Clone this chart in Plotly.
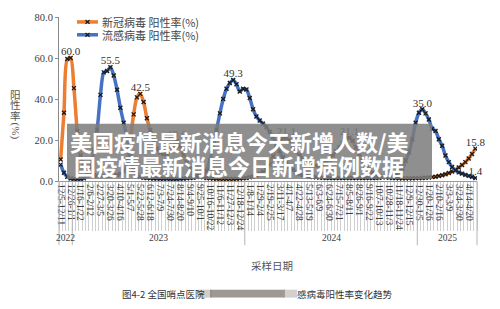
import plotly.graph_objects as go

# ---------------- data ----------------
covid_rate = [
    10.5, 33.3, 59.5, 60.0, 45.3, 24.4, 12.4, 7.6, 4.5, 3.2,
    2.8, 2.6, 2.5, 2.5, 2.5, 2.6, 2.7, 2.9, 3.5, 5.0,
    10.0, 20.5, 32.5, 40.8, 42.5, 38.5, 30.6, 24.8, 19.6, 15.8,
    13.8, 13.0, 13.2, 14.5, 16.8, 19.6, 17.0, 13.0, 9.0, 6.0,
    4.0, 3.0, 2.2, 1.8, 1.5, 1.3, 1.2, 1.1, 1.0, 1.0,
    1.0, 1.0, 1.0, 1.1, 1.2, 1.3, 1.5, 1.8, 2.2, 2.8,
    3.5, 4.5, 5.5, 8.0, 12.0, 16.0, 19.0, 20.8, 21.1, 19.8,
    17.0, 14.5, 12.5, 11.0, 9.8, 8.8, 8.0, 7.5, 7.5, 8.0,
    9.0, 10.5, 12.5, 14.5, 16.5, 18.5, 20.4, 21.1, 19.6, 16.4,
    13.0, 10.0, 7.5, 5.5, 4.0, 3.0, 2.5, 2.0, 1.8, 1.6,
    1.5, 1.4, 1.3, 1.3, 1.3, 1.3, 1.3, 1.4, 1.4, 1.5,
    1.6, 1.7, 1.9, 2.1, 2.4, 2.8, 3.3, 3.9, 4.6, 5.5,
    6.6, 7.8, 9.2, 11.0, 13.2, 15.8,
]
flu_rate = [
    8.0, 4.0, 2.0, 1.2, 1.0, 1.0, 1.0, 1.3, 2.5, 6.5,
    15.0, 25.0, 42.0, 53.0, 53.7, 55.5, 51.5, 44.5, 35.7, 28.4,
    21.0, 12.0, 5.5, 3.0, 2.0, 1.6, 1.4, 1.3, 1.2, 1.2,
    1.1, 1.1, 1.1, 1.0, 1.0, 1.0, 1.1, 1.2, 1.3, 1.4,
    1.6, 1.9, 2.2, 2.5, 5.0, 10.0, 17.0, 25.0, 33.0, 40.0,
    45.0, 47.8, 49.3, 47.2, 43.7, 45.0, 44.6, 40.5, 35.0, 31.5,
    29.5, 28.0, 26.3, 24.0, 21.5, 18.0, 14.5, 11.5, 9.0, 7.0,
    5.5, 4.3, 3.4, 2.8, 2.4, 2.1, 1.9, 1.8, 1.7, 1.6,
    1.5, 1.5, 1.5, 1.5, 1.5, 1.5, 1.5, 1.5, 1.5, 1.5,
    1.5, 1.5, 1.5, 1.5, 1.5, 1.5, 1.6, 1.8, 2.0, 2.4,
    2.9, 3.5, 4.5, 6.0, 10.0, 14.0, 20.4, 28.4, 33.3, 35.0,
    33.0, 30.0, 25.5, 24.4, 20.4, 17.2, 12.4, 9.2, 6.8, 5.2,
    4.2, 3.6, 3.0, 2.5, 2.0, 1.4,
]
tick_labels = [
    "12/5-12/11", "12/26-1/1", "1/16-1/22", "2/6-2/12", "2/27-3/5", "3/20-3/26",
    "4/10-4/16", "5/1-5/7", "5/22-5/28", "6/12-6/18", "7/3-7/9", "7/24-7/30",
    "8/14-8/20", "9/4-9/10", "9/25-10/1", "10/16-10/22", "11/6-11/12", "11/27-12/3",
    "12/18-12/24", "1/8-1/14", "1/29-2/4", "2/19-2/25", "3/11-3/17", "4/1-4/7",
    "4/22-4/28", "5/13-5/19", "6/3-6/9", "6/24-6/30", "7/15-7/21", "8/5-8/11",
    "8/26-9/1", "9/16-9/22", "10/7-10/13", "10/28-11/3", "11/18-11/24", "12/9-12/15",
    "12/30-1/5", "1/20-1/26", "2/10-2/16", "3/3-3/9", "3/24-3/30", "4/14-4/20",
]
tick_step = 3
years = ["2022", "2023", "2024", "2025"]
year_bounds = [0, 4, 56, 108, 126]   # category index where each year group starts/ends

label_series = ["covid", "flu", "covid", "covid", "flu", "covid", "covid", "flu", "covid", "flu"]
label_index = [3, 15, 24, 35, 52, 68, 87, 109, 125, 125]
label_text = ["60.0", "55.5", "42.5", "19.6", "49.3", "21.1", "21.1", "35.0", "15.8", "1.4"]

series_names = ["新冠病毒 阳性率(%)", "流感病毒 阳性率(%)"]
series_colors = ["#ED7D31", "#4472C4"]

banner_lines = ["美国疫情最新消息今天新增人数/美", "国疫情最新消息今日新增病例数据"]
caption_left = "图4-2 全国哨点医院"
caption_right = "感病毒阳性率变化趋势"

# ---------------- geometry helpers ----------------
W, H = 500, 309
ML, MR, MT, MB = 59, 23, 15, 128
PW, PH = W - ML - MR, H - MT - MB
n = len(covid_rate)
x_idx = list(range(n))
xr = [-0.5, n - 0.5]

def px(xpix):
    return (xpix - ML) / PW

def py(ypix):
    return (H - MB - ypix) / PH

def pcat(c):
    return (c - xr[0]) / (xr[1] - xr[0])

CJK = "Noto Sans CJK SC"
SERIF = "Liberation Serif"

fig = go.Figure()
for vals, col in zip([covid_rate, flu_rate], series_colors):
    fig.add_trace(go.Scatter(
        x=x_idx, y=vals, mode="lines+markers",
        line=dict(color=col, width=3.5, shape="spline", smoothing=0.8),
        marker=dict(symbol="x-thin", size=4, color="#1a1a1a",
                    line=dict(width=1.3, color="#1a1a1a")),
        showlegend=False, hoverinfo="skip"))

lab_y = [(covid_rate if s == "covid" else flu_rate)[i] for s, i in zip(label_series, label_index)]
fig.add_trace(go.Scatter(
    x=label_index, y=lab_y, mode="text", text=label_text,
    textposition="top center", cliponaxis=False,
    textfont=dict(family=SERIF, size=11, color="#333333"),
    showlegend=False, hoverinfo="skip"))

tick_vals = list(range(0, tick_step * len(tick_labels), tick_step))

fig.update_layout(
    width=W, height=H, autosize=False,
    margin=dict(l=ML, r=MR, t=MT, b=MB, pad=0),
    paper_bgcolor="white", plot_bgcolor="white",
    xaxis=dict(
        range=xr, tickmode="array", tickvals=tick_vals, ticktext=tick_labels,
        tickangle=90, ticks="", showgrid=False, zeroline=False,
        showline=True, linecolor="#9a9a9a", linewidth=1,
        tickfont=dict(family=SERIF, size=9.5, color="#404040"),
        minor=dict(tickmode="linear", tick0=-0.5, dtick=1, ticks="outside",
                   ticklen=49, tickcolor="#cfcfcf", tickwidth=1, showgrid=False),
    ),
    yaxis=dict(
        range=[0, 80], tickvals=[0, 20, 40, 60, 80], tickformat=".1f",
        ticks="outside", ticklen=3, tickcolor="#8a8a8a",
        showline=True, linecolor="#8a8a8a", linewidth=1,
        showgrid=False, zeroline=False,
        tickfont=dict(family=SERIF, size=10.5, color="#404040"),
    ),
)

shapes = []
# year group separators
for b in year_bounds:
    xb = pcat(b - 0.5)
    shapes.append(dict(type="line", xref="paper", yref="paper", x0=xb, x1=xb,
                       y0=0, y1=py(246), line=dict(color="#b5b5b5", width=1)))
# legend samples
for k, col in enumerate(series_colors):
    yy = py(20 + 13 * k)
    shapes.append(dict(type="line", xref="paper", yref="paper", x0=px(77), x1=px(98),
                       y0=yy, y1=yy, line=dict(color=col, width=3.5)))
    for d in (1, -1):
        shapes.append(dict(type="line", xref="paper", yref="paper",
                           x0=px(85.5), x1=px(89.5), y0=py(20 + 13 * k - 2 * d),
                           y1=py(20 + 13 * k + 2 * d), line=dict(color="#1a1a1a", width=1.2)))
# banner overlay
shapes.append(dict(type="rect", xref="paper", yref="paper", layer="above",
                   x0=px(67), x1=px(432), y0=py(179), y1=py(123),
                   fillcolor="rgba(125,125,125,0.86)", line=dict(width=0)))
# blurred part of caption
for x0, x1, c in [(198, 212, "rgba(160,155,150,0.5)"), (210, 285, "rgba(140,134,128,0.85)"),
                  (283, 297, "rgba(165,160,155,0.5)")]:
    shapes.append(dict(type="rect", xref="paper", yref="paper", x0=px(x0), x1=px(x1),
                       y0=py(299), y1=py(291), fillcolor=c, line=dict(width=0)))
fig.update_layout(shapes=shapes)

ann = []
for k, name in enumerate(series_names):
    ann.append(dict(xref="paper", yref="paper", x=px(100), y=py(20 + 13 * k), text=name,
                    showarrow=False, xanchor="left", yanchor="middle",
                    font=dict(family=CJK, size=11, color="#444444")))
for k, yname in enumerate(["阳", "性", "率"]):
    ann.append(dict(xref="paper", yref="paper", x=px(15), y=py(93 + 11 * k), text=yname,
                    showarrow=False, xanchor="center", yanchor="middle",
                    font=dict(family=CJK, size=10.5, color="#555555")))
ann.append(dict(xref="paper", yref="paper", x=px(15), y=py(130), text="(%)", textangle=90,
                showarrow=False, xanchor="center", yanchor="middle",
                font=dict(family=SERIF, size=11, color="#555555")))
for k, yr in enumerate(years):
    mid = (year_bounds[k] + year_bounds[k + 1] - 1) / 2
    ann.append(dict(xref="paper", yref="paper", x=pcat(mid), y=py(239), text=yr,
                    showarrow=False, xanchor="center", yanchor="middle",
                    font=dict(family=SERIF, size=9.5, color="#404040")))
ann.append(dict(xref="paper", yref="paper", x=px(272), y=py(267), text="采样日期",
                showarrow=False, xanchor="center", yanchor="middle",
                font=dict(family=CJK, size=10.5, color="#555555")))
ann.append(dict(xref="paper", yref="paper", x=px(120), y=py(295), text=caption_left,
                showarrow=False, xanchor="left", yanchor="middle",
                font=dict(family=CJK, size=9.5, color="#333333")))
ann.append(dict(xref="paper", yref="paper", x=px(295), y=py(295), text=caption_right,
                showarrow=False, xanchor="left", yanchor="middle",
                font=dict(family=CJK, size=9.5, color="#333333")))
for k, line in enumerate(banner_lines):
    ann.append(dict(xref="paper", yref="paper", x=px(239), y=py(141 + 24 * k), text=line,
                    showarrow=False, xanchor="center", yanchor="middle",
                    font=dict(family=CJK, size=22, color="white", weight="bold")))
fig.update_layout(annotations=ann)

fig.write_html("out.html")
